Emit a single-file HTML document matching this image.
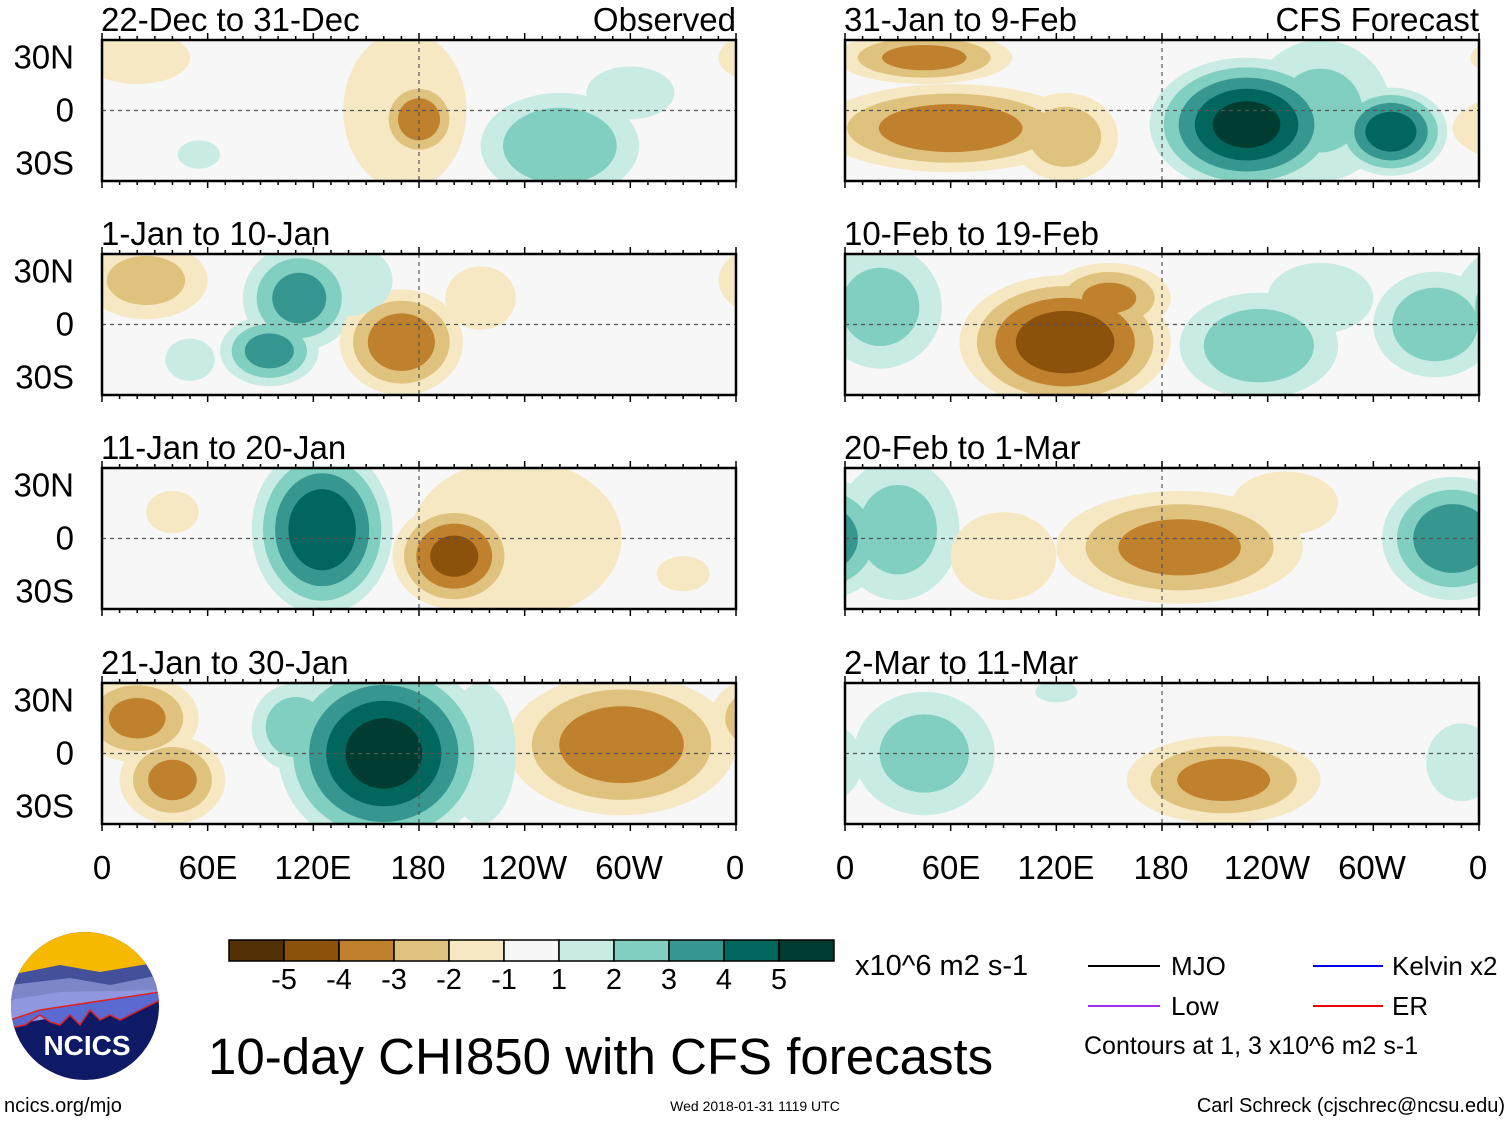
<!DOCTYPE html>
<html><head><meta charset="utf-8"><style>
body{margin:0;background:#fff}
svg text{font-family:"Liberation Sans",sans-serif;fill:#000}
</style></head><body>
<svg id="fig" width="1510" height="1121" viewBox="0 0 1510 1121" xmlns="http://www.w3.org/2000/svg">
<defs id="defs"></defs>
<g id="panels"></g>
<g id="colorbar"></g>
<g font-size="33" text-anchor="middle">
<text x="102" y="879">0</text><text x="208" y="879">60E</text><text x="313" y="879">120E</text><text x="418" y="879">180</text><text x="524" y="879">120W</text><text x="629" y="879">60W</text><text x="735" y="879">0</text>
</g>
<g font-size="33" text-anchor="middle">
<text x="845" y="879">0</text><text x="951" y="879">60E</text><text x="1056" y="879">120E</text><text x="1161" y="879">180</text><text x="1267" y="879">120W</text><text x="1372" y="879">60W</text><text x="1478" y="879">0</text>
</g>
<text x="855" y="975" font-size="29">x10^6 m2 s-1</text>
<g font-size="26">
<line x1="1088" y1="966" x2="1160" y2="966" stroke="#000" stroke-width="2"/><text x="1171" y="975">MJO</text>
<line x1="1313" y1="966" x2="1383" y2="966" stroke="#0000ee" stroke-width="2"/><text x="1392" y="975">Kelvin x2</text>
<line x1="1088" y1="1006" x2="1160" y2="1006" stroke="#a030f0" stroke-width="2"/><text x="1171" y="1015">Low</text>
<line x1="1313" y1="1006" x2="1383" y2="1006" stroke="#ee0000" stroke-width="2"/><text x="1392" y="1015">ER</text>
<text x="1084" y="1054" font-size="25">Contours at 1, 3 x10^6 m2 s-1</text>
</g>
<text x="208" y="1074" font-size="51">10-day CHI850 with CFS forecasts</text>
<text x="755" y="1111" font-size="14" text-anchor="middle">Wed 2018-01-31 1119 UTC</text>
<text x="4" y="1112" font-size="20">ncics.org/mjo</text>
<text x="1505" y="1112" font-size="20" text-anchor="end">Carl Schreck (cjschrec@ncsu.edu)</text>
<g>
<clipPath id="lc"><circle cx="85" cy="1006" r="74"/></clipPath>
<g clip-path="url(#lc)">
<rect x="10" y="930" width="150" height="152" fill="#0f1a66"/>
<rect x="10" y="930" width="150" height="50" fill="#f7b800"/>
<path d="M10 975 L60 965 L100 972 L160 962 L160 1000 L10 1010Z" fill="#44509a"/>
<path d="M10 985 L70 978 L110 985 L160 975 L160 1000 L10 1018Z" fill="#7c86c8"/>
<path d="M10 1000 L60 992 L160 990 L160 1000 L10 1025Z" fill="#8f98de"/>
<path d="M10 1020 L40 1010 L160 992 L160 1000 L130 1015 L120 1020 L110 1015 L100 1020 L90 1010 L80 1025 L70 1015 L60 1025 L50 1022 L40 1015 L25 1025 L10 1028Z" fill="#5a6ad0" stroke="#e02020" stroke-width="1.5"/>
</g>
<text x="87" y="1055" font-size="28" font-weight="bold" text-anchor="middle" style="fill:#fff">NCICS</text>
</g>
<script>
const panelTitles = ["22-Dec to 31-Dec","1-Jan to 10-Jan","11-Jan to 20-Jan","21-Jan to 30-Jan","31-Jan to 9-Feb","10-Feb to 19-Feb","20-Feb to 1-Mar","2-Mar to 11-Mar"];
// blobs: [lon, lat, value, rxDeg, ryDeg]
const blobs0 = [[172,0,-1.5,35,45],[180,-5,-3.6,22,22],[260,-20,2.8,45,30],[300,10,1.4,25,15],[20,30,-1.6,30,15],[55,-25,1.3,12,8]];
const blobs1 = [[112,15,3.2,32,30],[95,-15,3.3,28,20],[170,-10,-3.6,35,30],[25,25,-2.2,35,22],[215,15,-1.7,20,18],[50,-20,1.6,14,12],[140,25,1.5,25,20]];
const blobs2 = [[125,5,4.8,40,48],[200,-10,-4.2,35,30],[235,0,-1.6,60,45],[40,15,-1.2,15,12],[330,-20,-1.3,15,10]];
const blobs3 = [[160,0,5.4,60,55],[110,15,2.5,25,25],[295,5,-3.6,65,40],[20,20,-3.1,35,25],[40,-15,-3.1,30,25],[215,0,1.5,20,40]];
const blobs4 = [[60,-10,-3.6,75,25],[45,30,-3.2,50,15],[125,-15,-2.5,30,25],[228,-8,5.3,55,38],[310,-12,4.6,32,25],[270,0,2,40,40]];
const blobs5 = [[125,-10,-4.7,60,38],[150,15,-3,35,20],[235,-12,2.6,45,30],[335,0,2.6,35,30],[20,10,2.2,35,35],[270,15,1.4,30,20]];
const blobs6 = [[190,-5,-3.3,70,32],[345,0,3.7,40,35],[30,5,2.2,35,40],[250,20,-1.3,30,18],[90,-10,-1.5,30,25]];
const blobs7 = [[215,-15,-3.2,55,25],[45,0,2.2,40,35],[350,-5,1.7,20,22],[120,35,1.2,12,6]];
const allBlobs = [blobs0,blobs1,blobs2,blobs3,blobs4,blobs5,blobs6,blobs7];
const posColors = ["#c8ebe3","#80cfc0","#35978f","#01665e","#003c30"];
const negColors = ["#f6e8c3","#dfc27d","#bf812d","#8c510a","#543005"];
const cbLabels = ["-5","-4","-3","-2","-1","1","2","3","4","5"];
const latTicks = ["30N","0","30S"];

const NS="http://www.w3.org/2000/svg";
const fig=document.getElementById('panels');
const defs=document.getElementById('defs');
const colX=[102,845], rowY=[40,254,468,683], PW=634, PH=141;
function mk(t,a,p){const e=document.createElementNS(NS,t);for(const k in a)e.setAttribute(k,a[k]);p.appendChild(e);return e;}
for(let p=0;p<8;p++){
  const x0=colX[p<4?0:1], y0=rowY[p%4];
  const xs=lon=>x0+lon/360*PW, ys=lat=>y0+(40-lat)/80*PH;
  const g=mk('g',{},fig);
  
  
  const cp=mk('clipPath',{id:'cp'+p},defs); mk('rect',{x:x0,y:y0,width:PW,height:PH},cp);
  mk('rect',{x:x0,y:y0,width:PW,height:PH,fill:'#f7f7f7'},g);
  const inner=mk('g',{'clip-path':'url(#cp'+p+')'},g);
  for(let k=1;k<=5;k++){
    allBlobs[p].forEach(b=>{
      const [lon,lat,v,rx,ry]=b, a=Math.abs(v), cols=v>0?posColors:negColors;
      if(k>Math.floor(a)) return;
      const s=Math.pow((a-k+1)/a,0.75);
      for(const off of [-360,0,360]){
        const e=mk('ellipse',{cx:xs(lon+off),cy:ys(lat),rx:rx*s/360*PW,ry:ry*s/80*PH,fill:cols[k-1]},inner);
        
        
      }
    });
  }
  mk('line',{x1:x0,y1:ys(0),x2:x0+PW,y2:ys(0),stroke:'#555','stroke-dasharray':'4,4','stroke-width':1.2},g);
  mk('line',{x1:xs(180),y1:y0,x2:xs(180),y2:y0+PH,stroke:'#555','stroke-dasharray':'4,4','stroke-width':1.2},g);
  mk('rect',{x:x0,y:y0,width:PW,height:PH,fill:'none',stroke:'#000','stroke-width':2.5},g);
  for(let l=0;l<=360;l+=10){const L=l%60==0?7:4;
    mk('line',{x1:xs(l),y1:y0,x2:xs(l),y2:y0-L,stroke:'#000','stroke-width':1.5},g);
    mk('line',{x1:xs(l),y1:y0+PH,x2:xs(l),y2:y0+PH+L,stroke:'#000','stroke-width':1.5},g);}
  const t=mk('text',{x:x0-1,y:y0-9,'font-size':33},g); t.textContent=panelTitles[p];
  if(p==0){const o=mk('text',{x:x0+PW,y:y0-9,'font-size':33,'text-anchor':'end'},g);o.textContent='Observed';}
  if(p==4){const o=mk('text',{x:x0+PW,y:y0-9,'font-size':33,'text-anchor':'end'},g);o.textContent='CFS Forecast';}
  if(p<4){[30,0,-30].forEach((lt,i)=>{const tt=mk('text',{x:74,y:ys(lt)+11,'font-size':33,'text-anchor':'end'},g);tt.textContent=latTicks[i];});}
}
const cb=document.getElementById('colorbar');
const cbCols=[...negColors].reverse().concat(['#f7f7f7']).concat(posColors);
cbCols.forEach((c,i)=>{const r=mk('rect',{x:229+i*55,y:940,width:55,height:21,fill:c,stroke:'#000','stroke-width':1.5},cb);
  
  });
cbLabels.forEach((l,i)=>{const t=mk('text',{x:284+i*55,y:989,'font-size':29,'text-anchor':'middle'},cb);t.textContent=l;});
</script>
</svg>
</body></html>
